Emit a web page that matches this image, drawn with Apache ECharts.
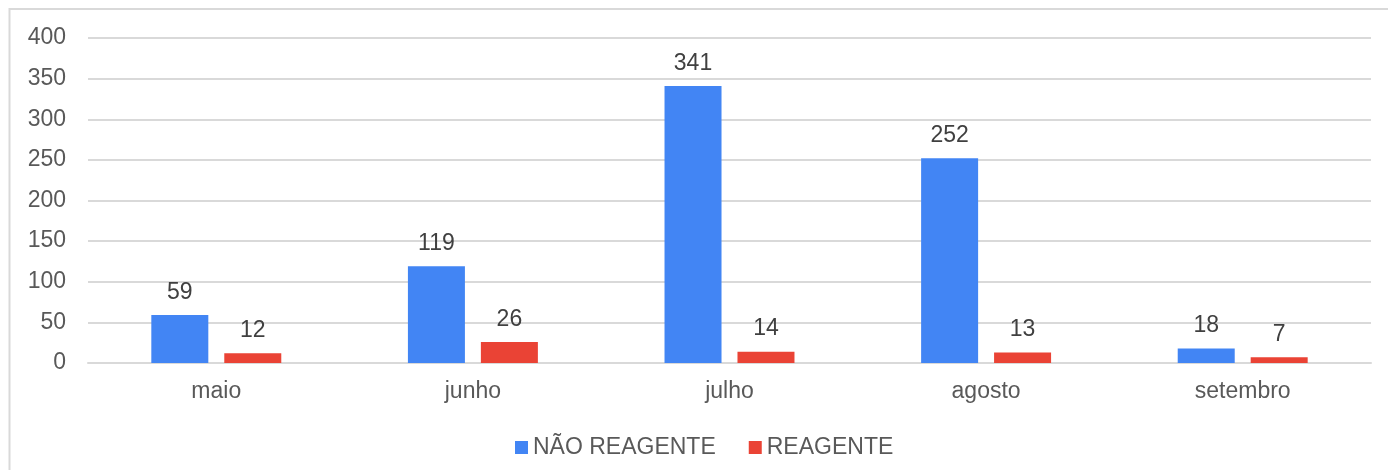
<!DOCTYPE html>
<html>
<head>
<meta charset="utf-8">
<script src="https://cdn.jsdelivr.net/npm/echarts@6/dist/echarts.min.js"></script>
<style>
  html, body { margin: 0; padding: 0; background: #fff; }
  #chart { width: 1388px; height: 470px; }
</style>
</head>
<body>
<div id="chart"></div>
<script>
const months = ['maio', 'junho', 'julho', 'agosto', 'setembro'];
const naoReagente = [59, 119, 341, 252, 18];
const reagente = [12, 26, 14, 13, 7];
const yTicks = { min: 0, max: 400, interval: 50 };

const textColor = '#595959';
const labelColor = '#404040';
const font = 'Liberation Sans, Arial, sans-serif';

const myChart = echarts.init(document.getElementById('chart'));

const option = {
  animation: false,
  color: ['#4285F4', '#EA4335'],
  textStyle: { fontFamily: font },
  graphic: [
    {
      type: 'rect',
      shape: { x: 9.5, y: 9, width: 1500, height: 600 },
      style: { fill: 'none', stroke: '#d9d9d9', lineWidth: 2 },
      silent: true
    }
  ],
  grid: {
    left: 88,
    right: 17,
    top: 38,
    bottom: 107
  },
  legend: {
    left: 510,
    top: 431,
    itemWidth: 13,
    itemHeight: 13,
    itemGap: 33,
    icon: 'rect',
    textStyle: { fontSize: 23, color: textColor, fontFamily: font },
    data: ['NÃO REAGENTE', 'REAGENTE']
  },
  xAxis: {
    type: 'category',
    data: months,
    axisLine: { lineStyle: { color: '#d9d9d9', width: 2 } },
    axisTick: { show: false },
    axisLabel: { fontSize: 23, color: textColor, margin: 17, fontFamily: font }
  },
  yAxis: {
    type: 'value',
    min: yTicks.min,
    max: yTicks.max,
    interval: yTicks.interval,
    axisLine: { show: false },
    axisTick: { show: false },
    splitLine: { lineStyle: { color: '#d9d9d9', width: 2 } },
    axisLabel: { fontSize: 23, color: textColor, margin: 22, fontFamily: font, padding: [4, 0, 0, 0] }
  },
  series: [
    {
      name: 'NÃO REAGENTE',
      type: 'bar',
      data: naoReagente,
      barWidth: 57,
      barGap: '28%',
      label: { show: true, position: 'top', distance: 11, fontSize: 23, color: labelColor, fontFamily: font }
    },
    {
      name: 'REAGENTE',
      type: 'bar',
      data: reagente,
      barWidth: 57,
      barGap: '28%',
      label: { show: true, position: 'top', distance: 11, fontSize: 23, color: labelColor, fontFamily: font }
    }
  ]
};

myChart.setOption(option);
</script>
</body>
</html>
